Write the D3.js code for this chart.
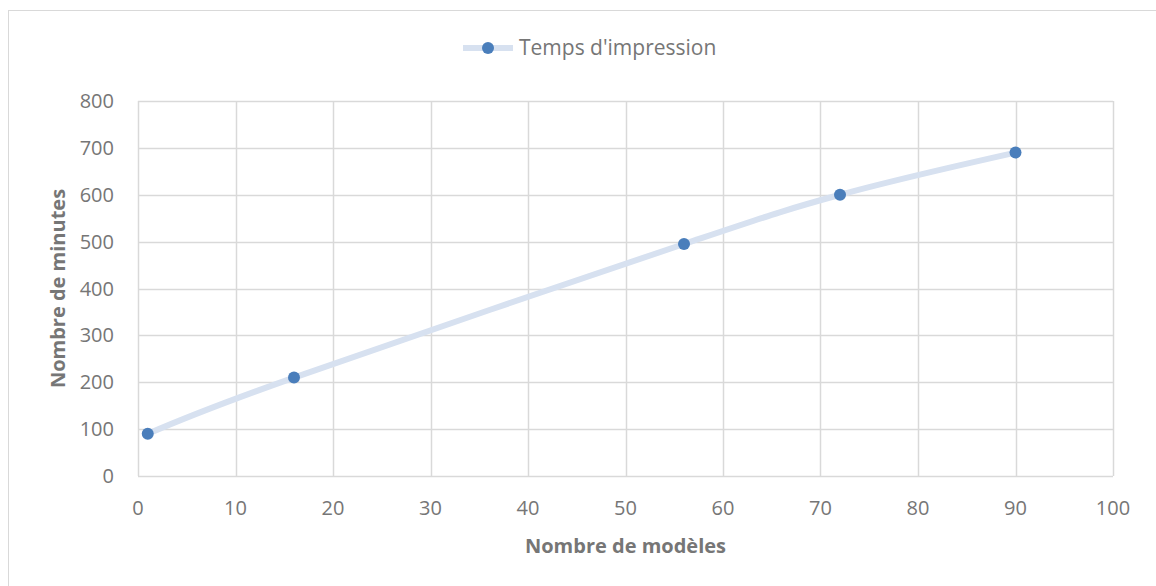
<!DOCTYPE html>
<html>
<head>
<meta charset="utf-8">
<script src="https://cdn.jsdelivr.net/npm/d3@7"></script>
<style>
  body { margin: 0; background: #fff; }
  svg { display: block; font-family: "Open Sans", Lato, sans-serif; }
</style>
</head>
<body>
<div id="chart"></div>
<script>
// data
const models = [1, 16, 56, 72, 90];
const minutes = [90, 210, 495, 600, 690];
const xTicks = [0, 10, 20, 30, 40, 50, 60, 70, 80, 90, 100];
const yTicks = [0, 100, 200, 300, 400, 500, 600, 700, 800];
const seriesName = "Temps d'impression";

const w = 1156, h = 586;
const plot = { left: 138, right: 1113, top: 101, bottom: 476 };
const textColor = "#767676";

const svg = d3.select("#chart").append("svg")
  .attr("width", w)
  .attr("height", h);

// chart frame
svg.append("rect")
  .attr("x", 8.5).attr("y", 10.5)
  .attr("width", w).attr("height", h)
  .attr("fill", "#fff")
  .attr("stroke", "#d9d9d9");

const x = d3.scaleLinear().domain([0, 100]).range([plot.left, plot.right]);
const y = d3.scaleLinear().domain([0, 800]).range([plot.bottom, plot.top]);

// gridlines
svg.append("g")
  .selectAll("line")
  .data(xTicks)
  .enter().append("line")
  .attr("x1", d => Math.round(x(d)) + 0.5).attr("x2", d => Math.round(x(d)) + 0.5)
  .attr("y1", plot.top).attr("y2", plot.bottom)
  .attr("stroke", "#d9d9d9").attr("stroke-width", 1.5);

svg.append("g")
  .selectAll("line")
  .data(yTicks)
  .enter().append("line")
  .attr("x1", plot.left).attr("x2", plot.right)
  .attr("y1", d => Math.round(y(d)) + 0.5).attr("y2", d => Math.round(y(d)) + 0.5)
  .attr("stroke", "#d9d9d9").attr("stroke-width", 1.5);

// tick labels
svg.append("g")
  .selectAll("text")
  .data(xTicks)
  .enter().append("text")
  .attr("x", d => x(d))
  .attr("y", 515)
  .attr("text-anchor", "middle")
  .attr("font-size", 20)
  .attr("fill", textColor)
  .text(d => d);

svg.append("g")
  .selectAll("text")
  .data(yTicks)
  .enter().append("text")
  .attr("x", 114)
  .attr("y", d => y(d) + 7)
  .attr("text-anchor", "end")
  .attr("font-size", 20)
  .attr("fill", textColor)
  .text(d => d);

// axis titles
svg.append("text")
  .attr("x", (plot.left + plot.right) / 2)
  .attr("y", 553)
  .attr("text-anchor", "middle")
  .attr("font-size", 20)
  .attr("font-weight", 700)
  .attr("fill", textColor)
  .text("Nombre de modèles");

svg.append("text")
  .attr("transform", `translate(65,${(plot.top + plot.bottom) / 2}) rotate(-90)`)
  .attr("text-anchor", "middle")
  .attr("font-size", 20)
  .attr("font-weight", 700)
  .attr("fill", textColor)
  .text("Nombre de minutes");

// series
const pts = models.map((m, i) => [m, minutes[i]]);

svg.append("path")
  .datum(pts)
  .attr("fill", "none")
  .attr("stroke", "#d7e1f0")
  .attr("stroke-width", 6)
  .attr("d", d3.line()
    .x(d => x(d[0]))
    .y(d => y(d[1]))
    .curve(d3.curveCatmullRom.alpha(0)));

svg.append("g")
  .selectAll("circle")
  .data(pts)
  .enter().append("circle")
  .attr("cx", d => x(d[0]))
  .attr("cy", d => y(d[1]))
  .attr("r", 6)
  .attr("fill", "#4a7ebb");

// legend
const lg = svg.append("g").attr("transform", "translate(463,48)");
lg.append("line")
  .attr("x1", 0).attr("x2", 50)
  .attr("stroke", "#d7e1f0").attr("stroke-width", 6);
lg.append("circle").attr("cx", 25).attr("r", 6).attr("fill", "#4a7ebb");
lg.append("text")
  .attr("x", 56).attr("y", 7)
  .attr("font-size", 21)
  .attr("fill", textColor)
  .text(seriesName);
</script>
</body>
</html>
